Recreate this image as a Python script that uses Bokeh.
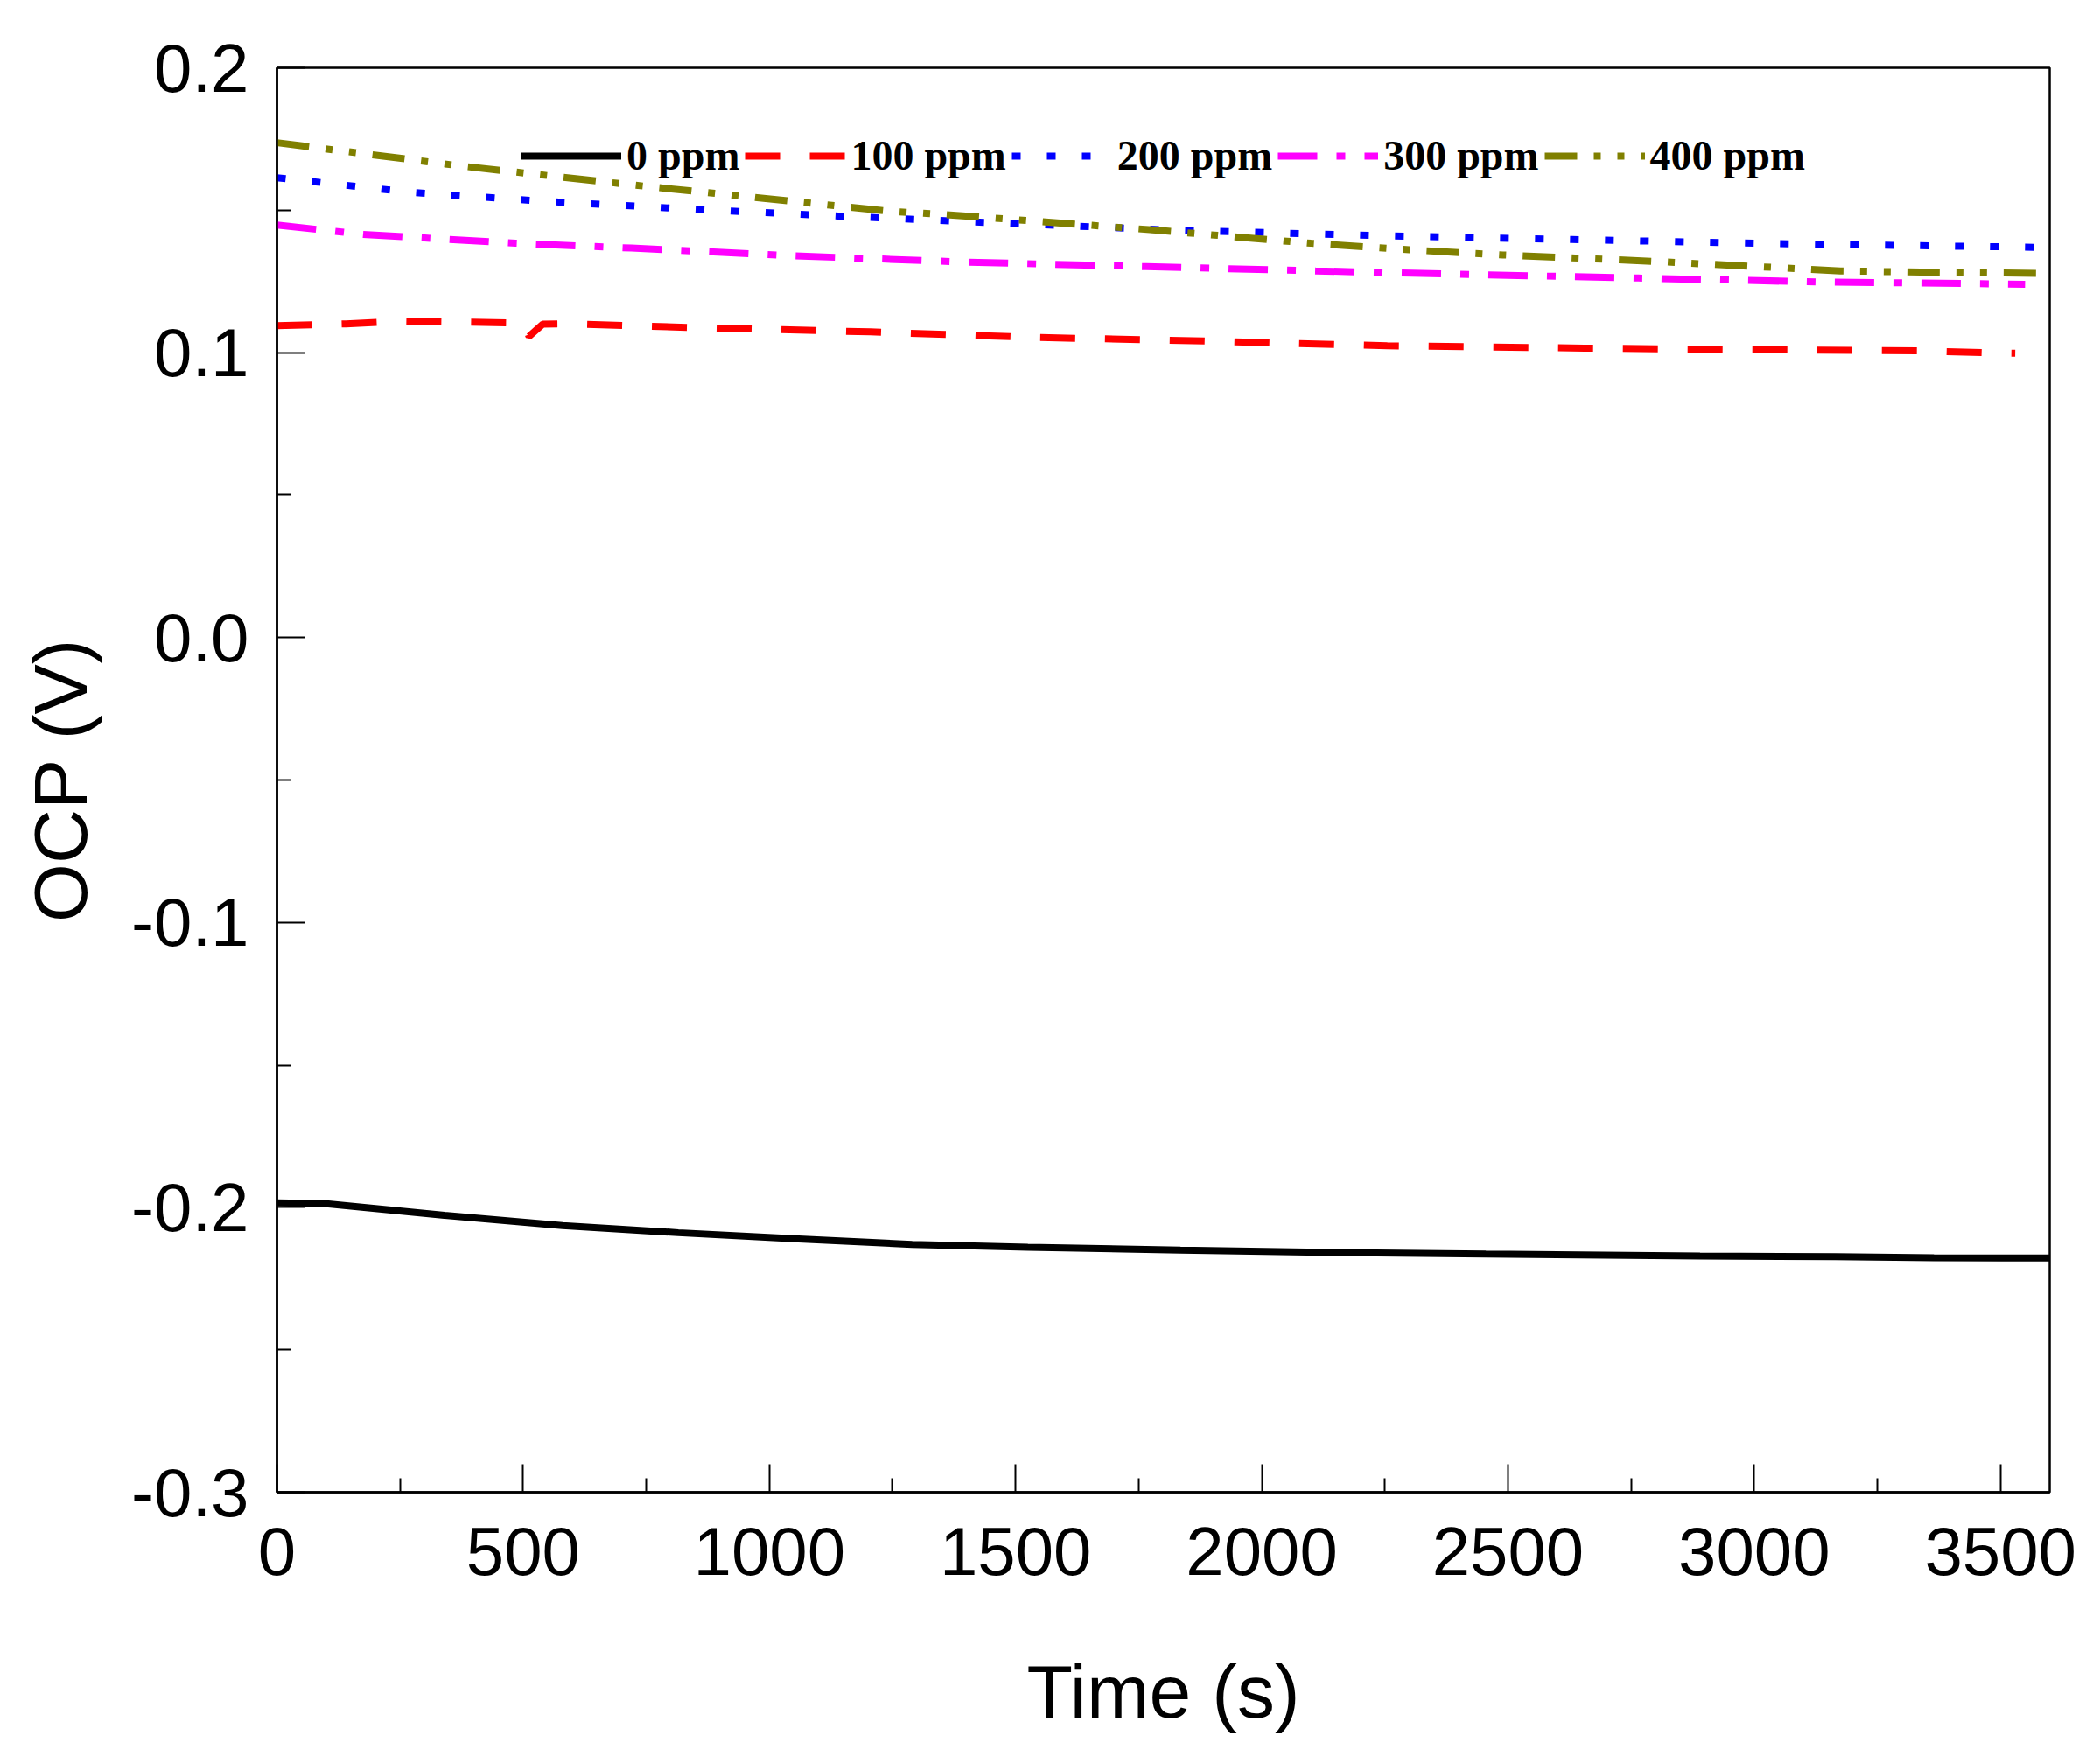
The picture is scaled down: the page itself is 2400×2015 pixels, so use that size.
from bokeh.plotting import figure
from bokeh.models import FixedTicker, PrintfTickFormatter, Range1d, Legend, LegendItem
from bokeh.embed import file_html
from bokeh.resources import INLINE

# ---- data ----
t0 = [0, 100, 340, 580, 815, 1050, 1290, 1525, 1835, 2120, 2455, 2890, 3165, 3365, 3600]
v0 = [-0.1984, -0.1987, -0.2028, -0.2064, -0.2089, -0.2110, -0.2130, -0.2140, -0.2150,
      -0.2158, -0.2164, -0.2171, -0.2173, -0.2177, -0.2178]

t100 = [0, 140, 260, 465, 500, 512, 540, 590, 850, 1205, 1525, 1860, 2255, 2655, 2955, 3345, 3485, 3530]
v100 = [0.1095, 0.1101, 0.1111, 0.1105, 0.1104, 0.1057, 0.1100, 0.1101, 0.1088, 0.1073,
        0.1054, 0.1042, 0.1024, 0.1016, 0.1011, 0.1006, 0.0999, 0.0998]

t200 = [0, 270, 555, 840, 1145, 1455, 1820, 2255, 2630, 3035, 3600]
v200 = [0.1614, 0.1563, 0.1530, 0.1504, 0.1479, 0.1456, 0.1430, 0.1410, 0.1397, 0.1383, 0.1369]

t300 = [0, 175, 485, 720, 1050, 1395, 1765, 2110, 2430, 2765, 3130, 3510, 3550]
v300 = [0.1448, 0.1415, 0.1384, 0.1367, 0.1340, 0.1318, 0.1302, 0.1287, 0.1274, 0.1262,
        0.1248, 0.1241, 0.1240]

t400 = [0, 375, 720, 1240, 1405, 1785, 2100, 2300, 2490, 2800, 3175, 3365, 3600]
v400 = [0.1737, 0.1655, 0.1589, 0.1497, 0.1479, 0.1430, 0.1384, 0.1361, 0.1343, 0.1320,
        0.1287, 0.1282, 0.1278]

labels = ["0 ppm", "100 ppm", "200 ppm", "300 ppm", "400 ppm"]
x_major = [0, 500, 1000, 1500, 2000, 2500, 3000, 3500]
x_minor = [250, 750, 1250, 1750, 2250, 2750, 3250]
y_major = [-0.3, -0.2, -0.1, 0.0, 0.1, 0.2]
y_minor = [-0.25, -0.15, -0.05, 0.05, 0.15]

p = figure(width=2384, height=2007, output_backend="svg", toolbar_location=None,
           x_range=Range1d(0, 3600), y_range=Range1d(-0.3, 0.2),
           min_border_left=316, min_border_right=42, min_border_top=77, min_border_bottom=302)
p.background_fill_color = "white"
p.border_fill_color = "white"
p.xgrid.visible = False
p.ygrid.visible = False
p.outline_line_color = "black"
p.outline_line_width = 2.5

LW = 8
r0 = p.line(t0, v0, line_color="black", line_width=LW)
r1 = p.line(t100, v100, line_color="#FF0000", line_width=LW, line_dash="40 34")
r2 = p.line(t200, v200, line_color="#0000FF", line_width=LW, line_dash="10 30")
r3 = p.line(t300, v300, line_color="#FF00FF", line_width=LW, line_dash="45 22 10 22")
r4 = p.line(t400, v400, line_color="#808000", line_width=LW, line_dash="37 19 8 19 8 19")

legend = Legend(items=[LegendItem(label=l, renderers=[r]) for l, r in zip(labels, [r0, r1, r2, r3, r4])],
                orientation="horizontal", location=(279, 1500),
                glyph_width=115, glyph_height=50, label_height=50,
                label_standoff=6, spacing=6, padding=0, margin=0,
                label_text_font="Liberation Serif", label_text_font_style="bold",
                label_text_font_size="48px", label_text_color="black",
                border_line_alpha=0, background_fill_alpha=0)
p.add_layout(legend, "center")

for ax in (p.xaxis[0], p.yaxis[0]):
    ax.axis_line_width = 2.5
    ax.axis_line_color = "black"
    ax.major_tick_in = 32
    ax.major_tick_out = 0
    ax.minor_tick_in = 16
    ax.minor_tick_out = 0
    ax.major_tick_line_width = 2
    ax.minor_tick_line_width = 2
    ax.major_label_text_font = "Liberation Sans"
    ax.major_label_text_font_size = "78px"
    ax.major_label_text_color = "black"
    ax.axis_label_text_font = "Liberation Sans"
    ax.axis_label_text_font_size = "86px"
    ax.axis_label_text_font_style = "normal"
    ax.axis_label_text_color = "black"

p.xaxis[0].ticker = FixedTicker(ticks=x_major, minor_ticks=x_minor)
p.yaxis[0].ticker = FixedTicker(ticks=y_major, minor_ticks=y_minor)
p.yaxis[0].formatter = PrintfTickFormatter(format="%.1f")
p.xaxis[0].axis_label = "Time (s)"
p.yaxis[0].axis_label = "OCP (V)"
p.xaxis[0].major_label_standoff = 40
p.yaxis[0].major_label_standoff = 32
p.xaxis[0].axis_label_standoff = 82
p.yaxis[0].axis_label_standoff = 30

open("out.html", "w").write(file_html(p, INLINE))
